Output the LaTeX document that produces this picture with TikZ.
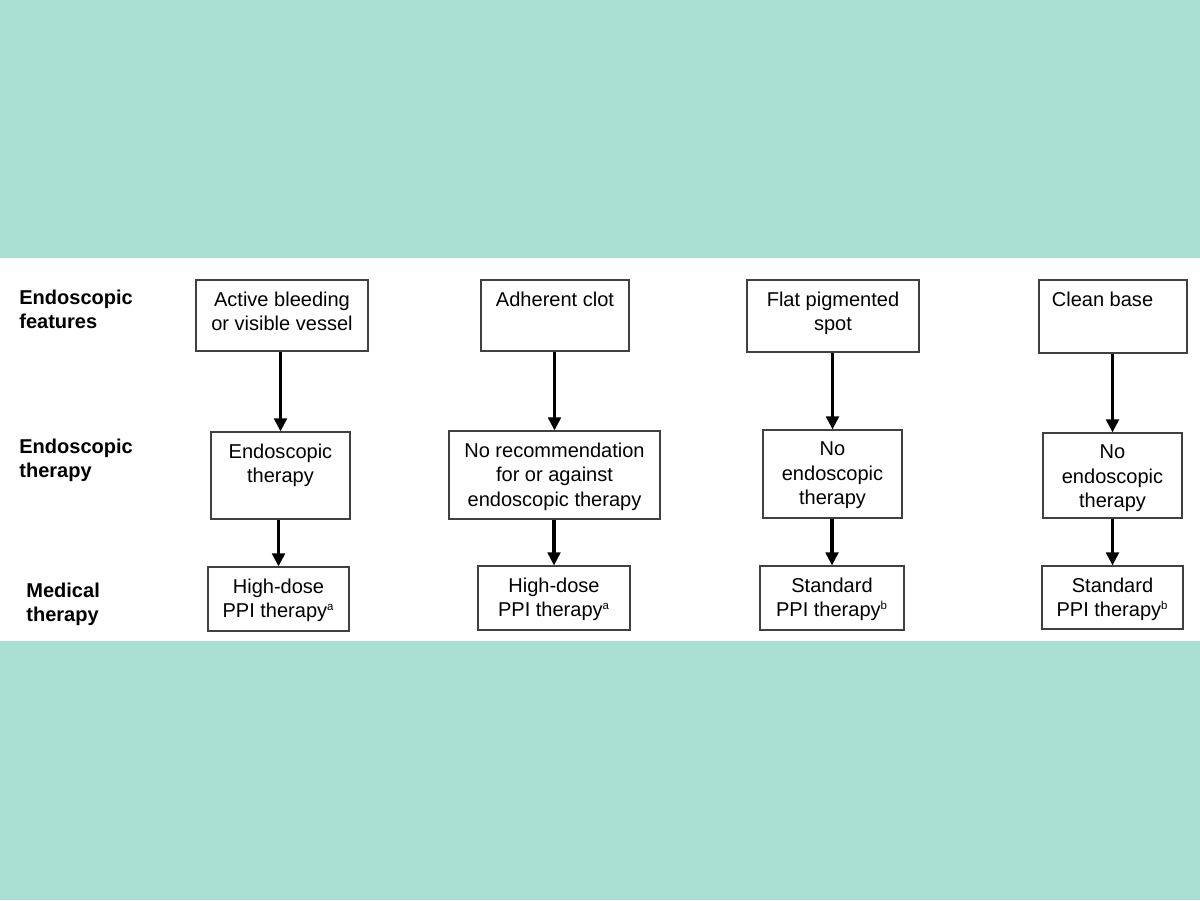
\documentclass[tikz,border=0pt]{standalone}
\usepackage{fontspec}
\setmainfont{Liberation Sans}
\usetikzlibrary{arrows.meta,positioning}
\definecolor{bgteal}{RGB}{170,223,212}
\newlength{\pxu}
\setlength{\pxu}{0.02cm}
\newcommand{\boxtxt}[3]{\parbox[c][#2\pxu][t]{#1\pxu}{\centering\vspace*{11.5\pxu}#3\par}}
\newcommand{\fnote}[1]{\textsuperscript{\fontsize{6.5}{7}\selectfont #1}}
\tikzset{
  >=Triangle,
}

\begin{document}
\begin{tikzpicture}[
  x=0.02cm, y=-0.02cm,
  every node/.style={font=\fontsize{11.4}{14.1}\selectfont},
  fbox/.style={draw=black!75, line width=0.6pt, inner sep=0pt, fill=white},
  rowlbl/.style={anchor=north west, inner sep=0pt, align=left, font=\fontsize{11.4}{13.3}\selectfont\bfseries},
  arr/.style={-{Triangle[length=0.26cm,width=0.25cm]}, line width=1.8pt}
]
% background band
\fill[bgteal] (0,0) rectangle (1200,900);
\fill[white] (0,258) rectangle (1200,641);
\useasboundingbox (0,0) rectangle (1200,900);

% row labels
\node[rowlbl] (lfeat) at (19,290) {Endoscopic\\features};
\node[rowlbl] (lendo) at (19,439) {Endoscopic\\therapy};
\node[rowlbl] (lmed) at (26,583) {Medical\\therapy};

% endoscopic features
\node[fbox] (A1) at (282,315.5) {\boxtxt{172}{71}{Active bleeding\\or visible vessel}};
\node[fbox] (B1) at (555,315.5) {\boxtxt{148}{71}{Adherent clot}};
\node[fbox] (C1) at (833,316) {\boxtxt{172}{72}{Flat pigmented\\spot}};
\node[fbox] (D1) at (1113,316.5) {\boxtxt{148}{73}{Clean base\hspace*{0.42cm}}};

% endoscopic therapy
\node[fbox] (A2) at (280.5,475.5) {\boxtxt{139}{87}{Endoscopic\\therapy}};
\node[fbox] (B2) at (554.5,475) {\boxtxt{211}{88}{No recommendation\\for or against\\endoscopic therapy}};
\node[fbox] (C2) at (832.5,474) {\boxtxt{139}{88}{No\\endoscopic\\therapy}};
\node[fbox] (D2) at (1112.5,475.5) {\boxtxt{139}{85}{No\\endoscopic\\therapy}};

% medical therapy
\node[fbox] (A3) at (278.5,599) {\boxtxt{141}{64}{High-dose\\PPI therapy\fnote{a}}};
\node[fbox] (B3) at (554,598) {\boxtxt{152}{64}{High-dose\\PPI therapy\fnote{a}}};
\node[fbox] (C3) at (832,598) {\boxtxt{144}{64}{Standard\\PPI therapy\fnote{b}}};
\node[fbox] (D3) at (1112.5,597.5) {\boxtxt{141}{63}{Standard\\PPI therapy\fnote{b}}};

\foreach \c in {A,B,C,D} {
  \draw[arr] (\c1.south -| \c2.north) -- (\c2.north);
  \draw[arr] (\c2.south -| \c3.north) -- (\c3.north);
}
\end{tikzpicture}
\end{document}
